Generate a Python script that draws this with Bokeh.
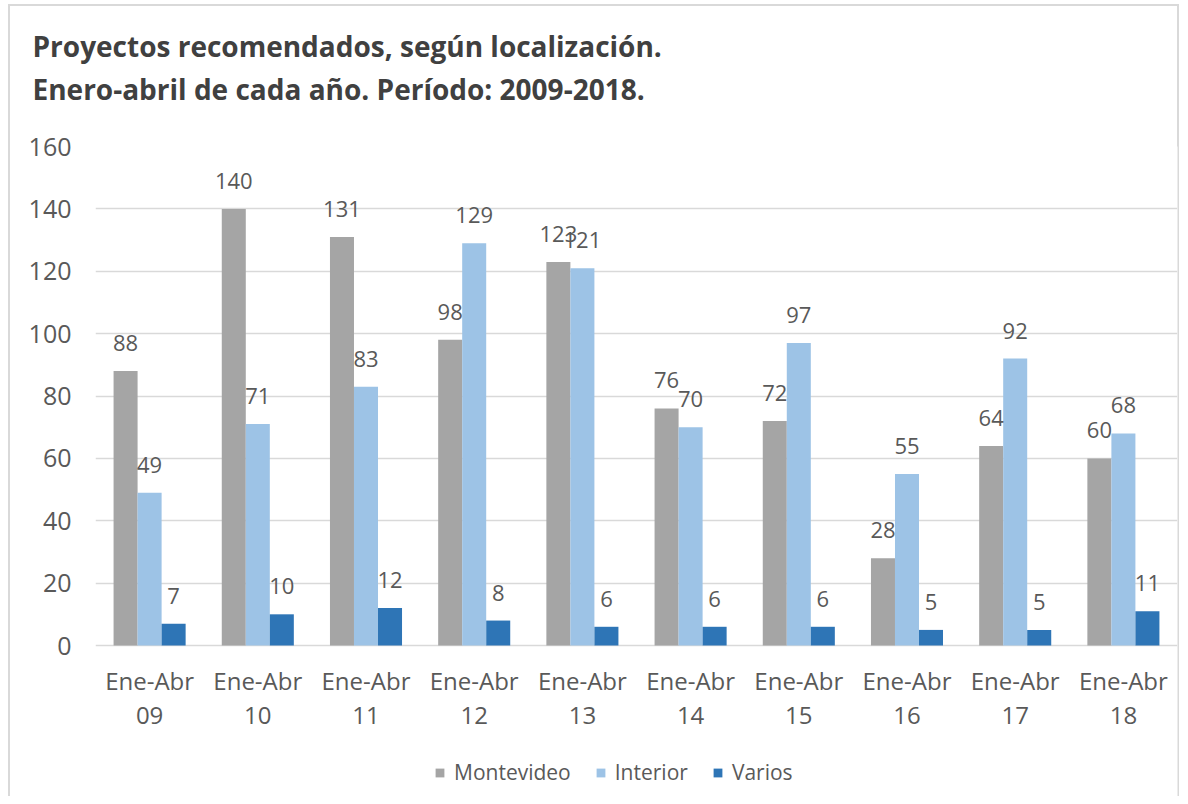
from bokeh.plotting import figure
from bokeh.models import (Range1d, FixedTicker, Title, Legend, LegendItem,
                          ColumnDataSource, LabelSet)
from bokeh.core.properties import value
from bokeh.embed import file_html
from bokeh.resources import INLINE
import numpy as np

# ---- data ----
periods = ["09", "10", "11", "12", "13", "14", "15", "16", "17", "18"]
period_prefix = "Ene-Abr"
series_names = ["Montevideo", "Interior", "Varios"]
montevideo = [88, 140, 131, 98, 123, 76, 72, 28, 64, 60]
interior = [49, 71, 83, 129, 121, 70, 97, 55, 92, 68]
varios = [7, 10, 12, 8, 6, 6, 6, 5, 5, 11]
y_ticks = [0, 20, 40, 60, 80, 100, 120, 140, 160]
title_lines = ["Proyectos recomendados, según localización.",
               "Enero-abril de cada año. Período: 2009-2018."]

colors = ["#A5A5A5", "#9DC3E6", "#2E75B6"]
FONT = "Open Sans"
TXT = "#595959"

# layout: plot area 499px for 0..160, plus 151px below zero for category labels + legend
PLOT_PX = 499
BELOW_PX = 151
y_max = y_ticks[-1]
y_min = -y_max * BELOW_PX / PLOT_PX

p = figure(frame_width=1082, frame_height=PLOT_PX + BELOW_PX, output_backend="svg",
           toolbar_location=None,
           x_range=Range1d(0, len(periods)), y_range=Range1d(y_min, y_max),
           min_border_left=95, min_border_right=3, min_border_top=146,
           min_border_bottom=0, x_axis_location=None)
p.outline_line_color = None
p.background_fill_color = "white"
p.border_fill_color = None
g = "linear-gradient(#D9D9D9,#D9D9D9)"
p.styles = {"background": f"{g} 8px 4px / 2px 100% no-repeat, "
                          f"{g} 8px 4px / 1171px 2px no-repeat, "
                          f"{g} 1177px 4px / 2px 100% no-repeat, white"}

# titles: p.title is outermost; first added Title is closest to the frame
p.title.text = title_lines[0]
p.title.text_font = FONT
p.title.text_font_size = "28px"
p.title.text_font_style = "bold"
p.title.text_color = "#404040"
p.title.align = "left"
p.title.offset = -63
p.title.standoff = 2
spacer = Title(text=" ", text_font_size="10px", standoff=24)
p.add_layout(spacer, "above")
t2 = Title(text=title_lines[1], text_font=FONT,
           text_font_size="28px", text_font_style="bold", text_color="#404040",
           align="left", offset=-63, standoff=4)
p.add_layout(t2, "above")

# y axis
p.yaxis.ticker = FixedTicker(ticks=y_ticks)
p.yaxis.axis_line_color = None
p.yaxis.major_tick_line_color = None
p.yaxis.minor_tick_line_color = None
p.yaxis.major_tick_out = 0
p.yaxis.major_tick_in = 0
p.yaxis.minor_tick_out = 0
p.yaxis.major_label_text_font = FONT
p.yaxis.major_label_text_font_size = "25px"
p.yaxis.major_label_text_color = TXT
p.yaxis.major_label_standoff = 24
p.ygrid.ticker = FixedTicker(ticks=y_ticks)
p.ygrid.grid_line_color = "#D9D9D9"
p.ygrid.grid_line_width = 1.5
p.xgrid.grid_line_color = None

# category labels (two lines) under each group
centers = [i + 0.5 for i in range(len(periods))]
cat_src = ColumnDataSource(dict(x=centers, y=[0] * len(centers),
                                l1=[period_prefix] * len(centers), l2=periods))
for col, off in (("l1", -35), ("l2", -70)):
    p.add_layout(LabelSet(x="x", y="y", text=col, source=cat_src, text_align="center",
                          text_baseline="middle", y_offset=off, text_font=value(FONT),
                          text_font_size=value("24px"), text_color=TXT))

bw = 0.222
offsets = [-bw, 0.0, bw]
items = []
for name, vals, col, off in zip(series_names, [montevideo, interior, varios], colors, offsets):
    xs = np.array(centers) + off
    src = ColumnDataSource(dict(x=xs, top=vals, lab=[str(v) for v in vals]))
    r = p.vbar(x="x", top="top", width=bw, bottom=0, source=src,
               fill_color=col, line_color=None)
    items.append(LegendItem(label=name, renderers=[r]))
    ls = LabelSet(x="x", y="top", text="lab", source=src, text_align="center",
                  text_baseline="alphabetic", y_offset=20, text_font=value(FONT),
                  text_font_size=value("22px"), text_color=TXT)
    p.add_layout(ls)

legend = Legend(items=items, orientation="horizontal", location=(339, 10),
                label_text_font=FONT, label_text_font_size="21px",
                label_text_color=TXT, glyph_width=11, glyph_height=11,
                label_standoff=9, spacing=24, border_line_color=None,
                background_fill_alpha=0, margin=0, padding=0)
p.add_layout(legend, "center")

open("out.html", "w").write(file_html(p, INLINE))
